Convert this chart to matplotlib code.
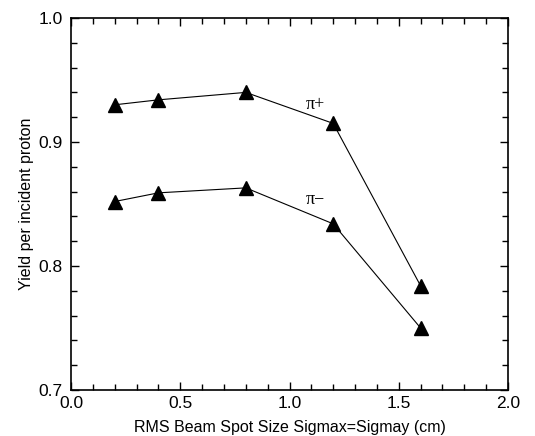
import numpy as np
import matplotlib
matplotlib.use("Agg")
import matplotlib.pyplot as plt
from matplotlib.ticker import MultipleLocator, FormatStrFormatter

plt.rcParams['font.family'] = ['Liberation Sans', 'DejaVu Sans']

# --- Data ---
spot_size = [0.2, 0.4, 0.8, 1.2, 1.6]
yield_pi_plus = [0.930, 0.934, 0.940, 0.915, 0.784]
yield_pi_minus = [0.852, 0.859, 0.863, 0.834, 0.750]

# --- Figure ---
fig = plt.figure(figsize=(5.35, 4.36), dpi=100)
ax = fig.add_axes([71 / 535, 1 - 390 / 436, 437 / 535, 372 / 436])

ax.plot(spot_size, yield_pi_plus, color='black', lw=0.8,
        marker='^', markersize=10)
ax.plot(spot_size, yield_pi_minus, color='black', lw=0.8,
        marker='^', markersize=10)

ax.text(1.12, 0.930, 'π+', family=['Liberation Serif', 'DejaVu Serif'],
        fontsize=13, ha='center', va='center')
ax.text(1.12, 0.854, 'π−', family=['Liberation Serif', 'DejaVu Serif'],
        fontsize=13, ha='center', va='center')

ax.set_xlim(0, 2.0)
ax.set_ylim(0.7, 1.0)
ax.xaxis.set_major_locator(MultipleLocator(0.5))
ax.xaxis.set_minor_locator(MultipleLocator(0.1))
ax.yaxis.set_major_locator(MultipleLocator(0.1))
ax.yaxis.set_minor_locator(MultipleLocator(0.02))
ax.xaxis.set_major_formatter(FormatStrFormatter('%.1f'))
ax.yaxis.set_major_formatter(FormatStrFormatter('%.1f'))

ax.tick_params(which='both', direction='in', top=True, right=True,
               labelsize=12.5, color='black')
ax.tick_params(which='major', length=6, width=1)
ax.tick_params(which='minor', length=4, width=1)
ax.tick_params(axis='x', which='major', pad=4)
ax.tick_params(axis='y', which='major', pad=6)
for s in ax.spines.values():
    s.set_linewidth(1.2)

ax.set_xlabel('RMS Beam Spot Size Sigmax=Sigmay (cm)', fontsize=11.5, labelpad=7)
ax.set_ylabel('Yield per incident proton', fontsize=11.5, labelpad=3)

fig.savefig('out.png', dpi=100)
